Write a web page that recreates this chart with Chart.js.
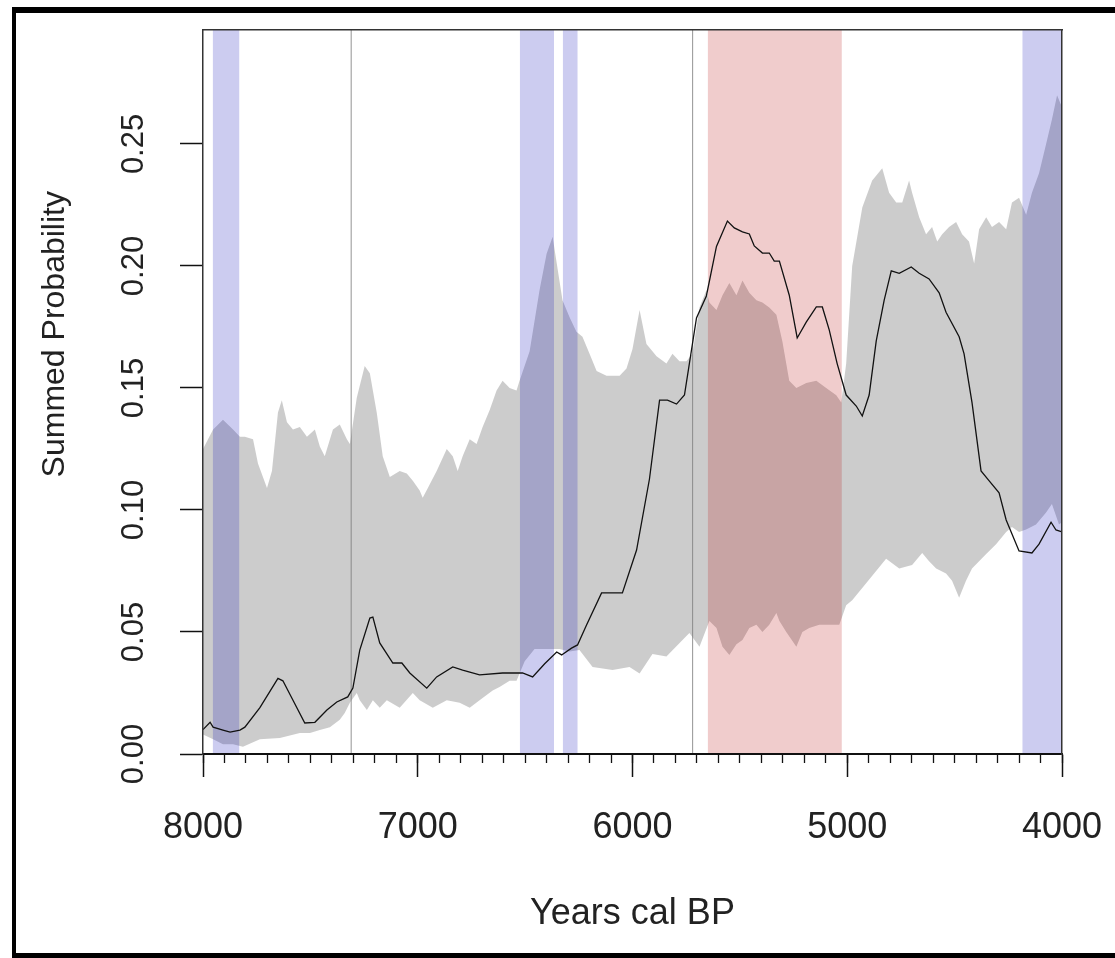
<!DOCTYPE html>
<html>
<head>
<meta charset="utf-8">
<title>Summed probability</title>
<script src="https://cdn.jsdelivr.net/npm/chart.js@4.4.1/dist/chart.umd.min.js"></script>
<style>
  html, body { margin: 0; padding: 0; background: #fff; }
  #wrap { position: relative; width: 1115px; height: 958px; overflow: hidden; }
  #spdChart { position: absolute; left: 0; top: 0; }
  /* thick black frame of the original figure (cut off at the right) */
  #frame {
    position: absolute; left: 12px; top: 7px; width: 1200px; height: 951px;
    box-sizing: border-box; pointer-events: none;
    border-left: 4px solid #000; border-top: 6px solid #000; border-bottom: 5px solid #000;
  }
</style>
</head>
<body>
<div id="wrap">
  <canvas id="spdChart" width="1115" height="958"></canvas>
  <div id="frame"></div>
</div>
<script>
// Observed summed probability (years cal BP -> value)
const spdYears = [
  8000, 7967, 7953, 7907, 7874, 7828, 7805, 7735, 7651, 7628,
  7581, 7526, 7479, 7423, 7377, 7326, 7302, 7270, 7223, 7209,
  7177, 7116, 7074, 7037, 6958, 6912, 6837, 6791, 6712, 6605,
  6512, 6465, 6409, 6353, 6330, 6284, 6256, 6214, 6144, 6107,
  6047, 5981, 5921, 5874, 5837, 5795, 5758, 5702, 5656, 5609,
  5558, 5526, 5488, 5456, 5433, 5395, 5363, 5340, 5316, 5270,
  5233, 5191, 5144, 5116, 5084, 5047, 5005, 4958, 4930, 4898,
  4865, 4828, 4795, 4758, 4702, 4665, 4619, 4572, 4540, 4479,
  4456, 4419, 4377, 4340, 4293, 4260, 4200, 4140, 4107, 4051,
  4028, 4000,
];
const spdValues = [
  0.010, 0.013, 0.011, 0.0098, 0.009, 0.0098, 0.011, 0.019, 0.031, 0.030,
  0.022, 0.0127, 0.013, 0.018, 0.0213, 0.0234, 0.027, 0.0426, 0.0557, 0.0561,
  0.0455, 0.0373, 0.0373, 0.0332, 0.027, 0.0316, 0.0357, 0.0344, 0.0324, 0.0332,
  0.0332, 0.0316, 0.037, 0.0418, 0.0406, 0.0434, 0.0447, 0.0529, 0.066, 0.066,
  0.066, 0.0836, 0.1127, 0.145, 0.145, 0.1434, 0.1471, 0.1787, 0.1877, 0.208,
  0.2184, 0.2156, 0.214, 0.2131, 0.2082, 0.2053, 0.2053, 0.202, 0.202, 0.188,
  0.1705, 0.177, 0.1832, 0.1832, 0.1738, 0.160, 0.1471, 0.1426, 0.1385, 0.1471,
  0.1693, 0.186, 0.198, 0.197, 0.1996, 0.197, 0.1947, 0.189, 0.181, 0.171,
  0.164, 0.144, 0.116, 0.112, 0.107, 0.0959, 0.0832, 0.0824, 0.086, 0.095,
  0.0918, 0.091,
];

// Simulation envelope, upper edge
const envUpperYears = [
  8000, 7953, 7907, 7860, 7828, 7805, 7767, 7744, 7702, 7679,
  7651, 7633, 7609, 7581, 7549, 7516, 7479, 7456, 7433, 7395,
  7363, 7330, 7316, 7284, 7247, 7223, 7191, 7163, 7130, 7084,
  7051, 7023, 6991, 6977, 6953, 6912, 6865, 6837, 6814, 6791,
  6758, 6726, 6698, 6665, 6633, 6605, 6572, 6540, 6526, 6479,
  6433, 6400, 6372, 6349, 6326, 6293, 6261, 6233, 6200, 6167,
  6121, 6060, 6028, 6000, 5967, 5935, 5888, 5842, 5814, 5781,
  5749, 5721, 5688, 5656, 5642, 5609, 5581, 5549, 5516, 5488,
  5456, 5423, 5395, 5363, 5330, 5302, 5270, 5237, 5191, 5144,
  5098, 5051, 5028, 5005, 4977, 4930, 4884, 4837, 4805, 4772,
  4744, 4712, 4698, 4665, 4633, 4605, 4581, 4558, 4526, 4493,
  4465, 4433, 4409, 4386, 4353, 4326, 4293, 4260, 4233, 4200,
  4167, 4140, 4107, 4074, 4047, 4023, 4000,
];
const envUpperValues = [
  0.125, 0.133, 0.137, 0.133, 0.130, 0.130, 0.129, 0.119, 0.109, 0.116,
  0.140, 0.145, 0.136, 0.133, 0.134, 0.130, 0.133, 0.126, 0.122, 0.133,
  0.135, 0.129, 0.127, 0.146, 0.159, 0.156, 0.140, 0.122, 0.1135, 0.116,
  0.115, 0.112, 0.108, 0.105, 0.109, 0.116, 0.125, 0.122, 0.116, 0.122,
  0.129, 0.127, 0.134, 0.141, 0.149, 0.153, 0.150, 0.149, 0.153, 0.165,
  0.190, 0.205, 0.212, 0.199, 0.186, 0.179, 0.173, 0.171, 0.164, 0.157,
  0.155, 0.155, 0.158, 0.166, 0.182, 0.168, 0.163, 0.160, 0.164, 0.161,
  0.161, 0.164, 0.183, 0.190, 0.185, 0.182, 0.188, 0.193, 0.188, 0.194,
  0.189, 0.186, 0.185, 0.183, 0.180, 0.169, 0.153, 0.150, 0.152, 0.153,
  0.150, 0.147, 0.144, 0.160, 0.200, 0.224, 0.235, 0.240, 0.230, 0.226,
  0.226, 0.235, 0.230, 0.220, 0.213, 0.216, 0.210, 0.213, 0.216, 0.218,
  0.213, 0.210, 0.201, 0.215, 0.220, 0.216, 0.218, 0.215, 0.226, 0.228,
  0.221, 0.230, 0.238, 0.250, 0.260, 0.270, 0.265,
];

// Simulation envelope, lower edge
const envLowerYears = [
  8000, 7953, 7907, 7860, 7814, 7735, 7642, 7549, 7502, 7456,
  7409, 7363, 7340, 7316, 7284, 7270, 7237, 7209, 7177, 7144,
  7084, 7023, 6991, 6930, 6865, 6805, 6758, 6712, 6651, 6619,
  6572, 6540, 6502, 6456, 6386, 6340, 6293, 6247, 6186, 6093,
  6014, 5967, 5907, 5842, 5767, 5735, 5688, 5642, 5609, 5581,
  5549, 5516, 5488, 5456, 5423, 5395, 5363, 5330, 5316, 5284,
  5237, 5209, 5177, 5130, 5084, 5037, 5005, 4977, 4912, 4819,
  4758, 4698, 4651, 4619, 4586, 4540, 4512, 4479, 4447, 4419,
  4386, 4353, 4307, 4260, 4233, 4200, 4167, 4121, 4074, 4047,
  4014, 4000,
];
const envLowerValues = [
  0.008, 0.006, 0.004, 0.004, 0.003, 0.006, 0.0066, 0.0086, 0.0086, 0.0098,
  0.011, 0.014, 0.0168, 0.021, 0.025, 0.022, 0.018, 0.022, 0.019, 0.022,
  0.019, 0.025, 0.022, 0.019, 0.022, 0.021, 0.019, 0.022, 0.026, 0.0275,
  0.030, 0.030, 0.038, 0.043, 0.043, 0.043, 0.042, 0.0426, 0.0357, 0.0344,
  0.0357, 0.033, 0.041, 0.040, 0.0467, 0.0496, 0.044, 0.0545, 0.0516, 0.044,
  0.0406, 0.045, 0.0467, 0.0516, 0.053, 0.050, 0.053, 0.0578, 0.0545, 0.050,
  0.044, 0.050, 0.0516, 0.053, 0.053, 0.053, 0.061, 0.063, 0.070, 0.080,
  0.076, 0.0775, 0.0824, 0.079, 0.076, 0.074, 0.071, 0.064, 0.071, 0.076,
  0.079, 0.082, 0.086, 0.091, 0.093, 0.091, 0.092, 0.094, 0.099, 0.1025,
  0.094, 0.095,
];

// Periods significantly below (busts) and above (booms) the envelope
const bustStarts = [7955, 6525, 6325, 4185];
const bustEnds = [7830, 6365, 6255, 4000];
const boomStarts = [5650];
const boomEnds = [5025];

// Thin reference lines
const markerYears = [7310, 5720];

// Axis ranges and ticks
const X_MIN = 4000;
const X_MAX = 8000;
const Y_MAX = 0.2967;
const X_STEP = 1000;
const X_MINOR_STEP = 100;
const Y_STEP = 0.05;

const FONT = "'Liberation Sans', Arial, Helvetica, sans-serif";
const TEXT_COLOR = "#222";
const AXIS_COLOR = "#111";

const toPoints = (xs, ys) => xs.map((x, i) => ({ x: x, y: ys[i] }));

const datasets = [
  {
    label: "Envelope upper",
    data: toPoints(envUpperYears, envUpperValues),
    borderColor: "rgba(0,0,0,0)",
    borderWidth: 0,
    backgroundColor: "rgba(0,0,0,0.2)",
    fill: 1,
    pointRadius: 0,
    tension: 0,
    order: 10,
  },
  {
    label: "Envelope lower",
    data: toPoints(envLowerYears, envLowerValues),
    borderColor: "rgba(0,0,0,0)",
    borderWidth: 0,
    fill: false,
    pointRadius: 0,
    tension: 0,
    order: 9,
  },
];

// shaded periods: two points at the top, filled down to zero
bustStarts.forEach((start, i) => {
  datasets.push({
    label: "Bust " + (i + 1),
    data: [{ x: start, y: Y_MAX }, { x: bustEnds[i], y: Y_MAX }],
    borderColor: "rgba(0,0,0,0)",
    borderWidth: 0,
    backgroundColor: "rgba(0,0,179,0.2)",
    fill: "origin",
    pointRadius: 0,
    order: 5,
  });
});
boomStarts.forEach((start, i) => {
  datasets.push({
    label: "Boom " + (i + 1),
    data: [{ x: start, y: Y_MAX }, { x: boomEnds[i], y: Y_MAX }],
    borderColor: "rgba(0,0,0,0)",
    borderWidth: 0,
    backgroundColor: "rgba(179,0,0,0.2)",
    fill: "origin",
    pointRadius: 0,
    order: 5,
  });
});

markerYears.forEach((yr) => {
  datasets.push({
    label: "Marker " + yr,
    data: [{ x: yr, y: 0 }, { x: yr, y: Y_MAX }],
    borderColor: "rgba(120,120,120,0.8)",
    borderWidth: 1,
    fill: false,
    pointRadius: 0,
    order: 4,
  });
});

datasets.push({
  label: "SPD",
  data: toPoints(spdYears, spdValues),
  borderColor: "#111",
  borderWidth: 1.3,
  fill: false,
  pointRadius: 0,
  tension: 0,
  order: 1,
});

datasets.forEach((ds) => {
  ds.xAxisID = "x";
  ds.yAxisID = "y";
});

new Chart(document.getElementById("spdChart"), {
  type: "line",
  data: { datasets: datasets },
  options: {
    responsive: false,
    animation: false,
    devicePixelRatio: 1,
    layout: { padding: { left: 0, top: 30, right: 53, bottom: 0 } },
    plugins: {
      legend: { display: false },
      tooltip: { enabled: false },
    },
    scales: {
      x: {
        type: "linear",
        min: X_MIN,
        max: X_MAX,
        reverse: true,
        position: "bottom",
        afterFit: (s) => {
          s.height = 958 - 754;
          s.paddingLeft = 0;
          s.paddingRight = 0;
        },
        ticks: {
          stepSize: X_STEP,
          autoSkip: false,
          maxRotation: 0,
          padding: 29,
          color: TEXT_COLOR,
          font: { family: FONT, size: 36 },
          callback: (v) => String(v),
        },
        grid: {
          drawOnChartArea: false,
          tickLength: 23,
          tickWidth: 1.5,
          tickColor: AXIS_COLOR,
        },
        border: { display: true, color: AXIS_COLOR, width: 2, z: 1 },
        title: {
          display: true,
          text: "Years cal BP",
          color: TEXT_COLOR,
          font: { family: FONT, size: 36 },
          padding: { top: 0, bottom: 22 },
        },
      },
      xMinor: {
        type: "linear",
        min: X_MIN,
        max: X_MAX,
        reverse: true,
        position: { y: 0 },
        ticks: { stepSize: X_MINOR_STEP, display: false, autoSkip: false, maxTicksLimit: 100 },
        grid: {
          drawOnChartArea: false,
          tickLength: 9,
          tickWidth: 1.3,
          tickColor: AXIS_COLOR,
        },
        border: { display: false },
      },
      xTop: {
        type: "linear",
        min: X_MIN,
        max: X_MAX,
        reverse: true,
        position: { y: Y_MAX },
        ticks: { display: false },
        grid: { display: false },
        border: { display: true, color: "#333", width: 1.5, z: 1 },
      },
      y: {
        type: "linear",
        min: 0,
        max: Y_MAX,
        position: "left",
        afterFit: (s) => {
          s.width = 203;
          s.paddingTop = 0;
          s.paddingBottom = 0;
        },
        ticks: {
          stepSize: Y_STEP,
          includeBounds: false,
          minRotation: 90,
          maxRotation: 90,
          crossAlign: "center",
          padding: 15,
          color: TEXT_COLOR,
          font: { family: FONT, size: 31 },
          callback: (v) => v.toFixed(2),
        },
        grid: {
          drawOnChartArea: false,
          tickLength: 23,
          tickWidth: 1.5,
          tickColor: AXIS_COLOR,
        },
        border: { display: true, color: "#333", width: 1.5, z: 1 },
        title: {
          display: true,
          // leading spaces lift the label, as in the original figure
          text: " ".repeat(13) + "Summed Probability",
          color: TEXT_COLOR,
          font: { family: FONT, size: 32 },
          padding: { top: 36, bottom: 0 },
        },
      },
      yRight: {
        type: "linear",
        min: 0,
        max: Y_MAX,
        position: { x: X_MIN },
        ticks: { display: false },
        grid: { display: false },
        border: { display: true, color: "#333", width: 1.5, z: 1 },
      },
    },
  },
});
</script>
</body>
</html>
